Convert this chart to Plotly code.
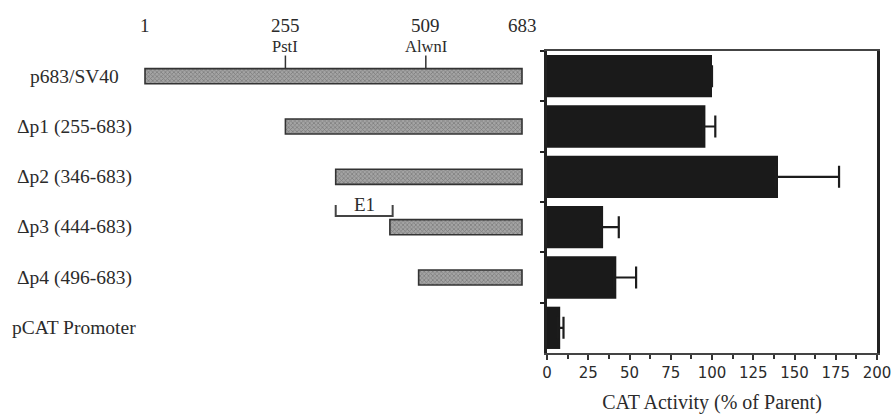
import plotly.graph_objects as go

# ---------------- data ----------------
constructs = ["p683/SV40", "Δp1 (255-683)", "Δp2 (346-683)",
              "Δp3 (444-683)", "Δp4 (496-683)", "pCAT Promoter"]
frag_start = [1, 255, 346, 444, 496]
frag_end = [683, 683, 683, 683, 683]
cat_activity = [100, 96, 140, 34, 42, 8]
cat_err = [None, 6, 37, 9.5, 12, 2]
map_positions = [1, 255, 509, 683]
sites = [255, 509]
site_names = ["PstI", "AlwnI"]
e1_region = [346, 449]
e1_label = "E1"
x_ticks = [0, 25, 50, 75, 100, 125, 150, 175, 200]

# ---------------- layout geometry (pixels) ----------------
W, H = 895, 414
px_l, px_r, px_t, px_b = 547, 877, 51, 353
map_px0, map_px1 = 145, 522   # pixel of position 1 and 683
left_dom_end = 537
ppu = (map_px1 - map_px0) / (map_positions[-1] - map_positions[0])
x2_range = [map_positions[0] - map_px0 / ppu,
            map_positions[-1] + (left_dom_end - map_px1) / ppu]

serif = "Liberation Serif, Times New Roman, serif"
txt = "#2b2b2b"

fig = go.Figure()

# fragments map (left)
fig.add_trace(go.Bar(
    y=constructs[:len(frag_start)],
    x=[e - s for s, e in zip(frag_start, frag_end)],
    base=frag_start,
    orientation="h",
    xaxis="x2", yaxis="y",
    width=0.3,
    marker=dict(color="#9a9a9a",
                line=dict(color="#333333", width=1.6),
                pattern=dict(shape="x", size=3, solidity=0.4,
                             fgcolor="#505050", bgcolor="#a4a4a4")),
    hoverinfo="skip", showlegend=False,
))

# CAT activity bars (right); minus side of the error bar hidden inside bar
fig.add_trace(go.Bar(
    y=constructs, x=cat_activity, orientation="h",
    xaxis="x", yaxis="y",
    width=0.84,
    marker=dict(color="#1a1a1a", line=dict(width=0)),
    error_x=dict(type="data", symmetric=False,
                 array=cat_err,
                 arrayminus=[None if e is None else 1.5 for e in cat_err],
                 color="#1c1c1c", thickness=2.2, width=11),
    showlegend=False,
))

annotations = []
# construct labels
for c in constructs:
    annotations.append(dict(x=74 / W, xref="paper", y=c, yref="y",
                            text=c, showarrow=False, xanchor="center",
                            font=dict(family=serif, size=19.5, color=txt)))
# map position numbers
for p in map_positions:
    annotations.append(dict(x=p, xref="x2", y=1 - 25 / H, yref="paper",
                            text=str(p), showarrow=False, xanchor="center",
                            yanchor="middle",
                            font=dict(family=serif, size=19, color=txt)))
# restriction site names
for p, n in zip(sites, site_names):
    annotations.append(dict(x=p, xref="x2", y=1 - 46 / H, yref="paper",
                            text=n, showarrow=False, xanchor="center",
                            yanchor="middle",
                            font=dict(family=serif, size=16.5, color=txt)))
# E1 label
annotations.append(dict(x=(e1_region[0] + e1_region[1]) / 2, xref="x2",
                        y=2.54, yref="y", text=e1_label, showarrow=False,
                        xanchor="center", yanchor="middle",
                        font=dict(family=serif, size=19, color=txt)))

shapes = []
for p in sites:
    shapes.append(dict(type="line", xref="x2", yref="y", x0=p, x1=p,
                       y0=-0.15, y1=-0.41,
                       line=dict(color="#333333", width=1.5)))
x0, x1 = e1_region
shapes.append(dict(type="path", xref="x2", yref="y",
                   path=f"M {x0},2.56 L {x0},2.78 L {x1},2.78 L {x1},2.56",
                   line=dict(color="#444444", width=2)))

fig.update_layout(
    width=W, height=H,
    margin=dict(l=0, r=0, t=0, b=0),
    paper_bgcolor="white", plot_bgcolor="white",
    bargap=0.16,
    xaxis=dict(domain=[px_l / W, px_r / W], range=[0, 200],
               tickvals=x_ticks, ticks="outside", ticklen=5, tickwidth=2,
               tickcolor="#333", showline=True, linewidth=2,
               linecolor="#444", mirror=True, showgrid=False, zeroline=False,
               minor=dict(ticks="outside", dtick=12.5, ticklen=4,
                          tickwidth=2, tickcolor="#333"),
               tickfont=dict(family="DejaVu Sans", size=15, color=txt),
               title=dict(text="CAT Activity (% of Parent)",
                          font=dict(family=serif, size=20, color=txt),
                          standoff=15),
               automargin=False, anchor="y", fixedrange=True),
    xaxis2=dict(domain=[0, left_dom_end / W], range=x2_range,
                visible=False, anchor="y", fixedrange=True),
    yaxis=dict(domain=[(H - px_b) / H, (H - px_t) / H],
               type="category", categoryorder="array",
               categoryarray=constructs, range=[5.5, -0.5],
               showticklabels=False, ticks="outside", tickson="boundaries",
               ticklen=4, tickwidth=2, tickcolor="#222",
               showline=True, linewidth=3, linecolor="#222", mirror=True,
               showgrid=False, zeroline=False, anchor="x",
               automargin=False, fixedrange=True),
    annotations=annotations,
    shapes=shapes,
)

fig.write_html("out.html",
               config={"displayModeBar": False},
               post_script="document.body.style.margin='0px';document.body.style.overflow='hidden';")
